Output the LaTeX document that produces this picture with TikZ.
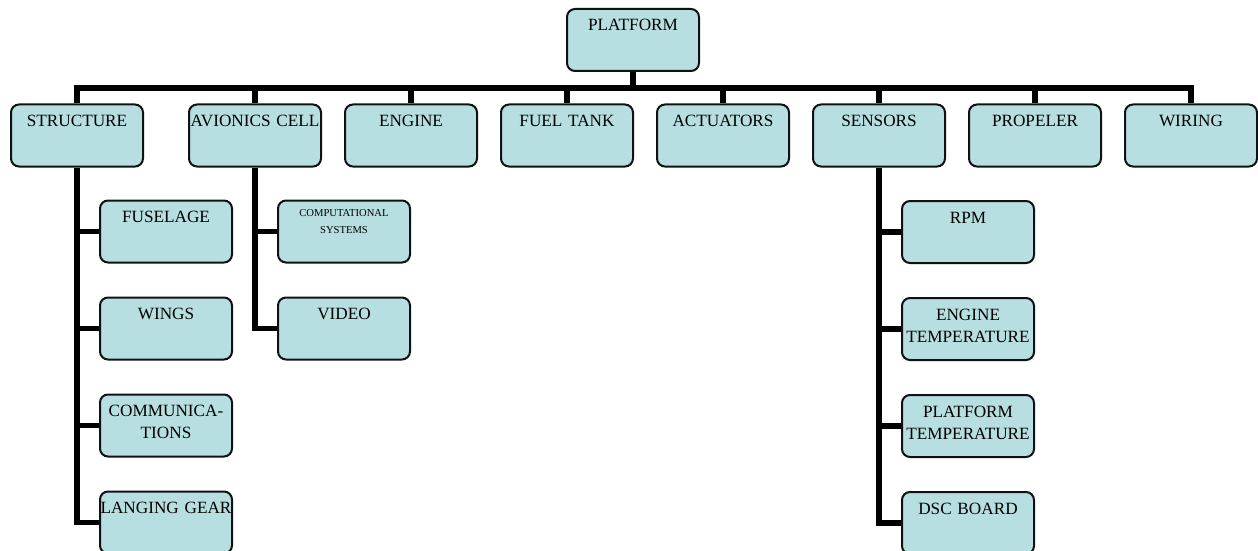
\documentclass[tikz,border=0pt]{standalone}
\usepackage{fontspec}
\setmainfont{Liberation Serif}
\usepackage{tikz}
\usetikzlibrary{positioning}
\definecolor{boxfill}{HTML}{B7DEE0}
\definecolor{boxline}{HTML}{111111}
\tikzset{
  unitbox/.style={draw=boxline, fill=boxfill, rounded corners=4pt, line width=1pt,
    minimum width=66pt, minimum height=31pt, text width=66pt, align=center,
    inner xsep=0pt, inner ysep=4pt, text height=7pt, text depth=16pt,
    font=\fontsize{8.6}{11}\selectfont},
  smallbox/.style={unitbox, text height=4pt, text depth=19pt,
    font=\fontsize{5.3}{8.5}\selectfont},
  link/.style={line width=2.75pt, draw=black}
}
\begin{document}
\begin{tikzpicture}[x=0.5pt, y=-0.5pt]
  \useasboundingbox (0,0) rectangle (1258,551);
  % top level
  \node[unitbox] (platform) at (633,40) {PLATFORM};
  % subsystems
  \node[unitbox] (structure) at (77,135.5) {STRUCTURE};
  \node[unitbox, right=22pt of structure] (avionics) {AVIONICS CELL};
  \node[unitbox, right=11pt of avionics] (engine) {ENGINE};
  \node[unitbox, right=11pt of engine] (fueltank) {FUEL TANK};
  \node[unitbox, right=11pt of fueltank] (actuators) {ACTUATORS};
  \node[unitbox, right=11pt of actuators] (sensors) {SENSORS};
  \node[unitbox, right=11pt of sensors] (propeler) {PROPELER};
  \node[unitbox, right=11pt of propeler] (wiring) {WIRING};
  % structure parts
  \node[unitbox] (fuselage) at (166,231.5) {FUSELAGE};
  \node[unitbox, below=16.5pt of fuselage] (wings) {WINGS};
  \node[unitbox, below=16.5pt of wings] (comms) {COMMUNICA-\\TIONS};
  \node[unitbox, below=16.5pt of comms] (gear) {LANGING GEAR};
  % avionics parts
  \node[smallbox] (compsys) at (344,231.5) {COMPUTATIONAL\\SYSTEMS};
  \node[unitbox, below=16.5pt of compsys] (video) {VIDEO};
  % sensor parts
  \node[unitbox] (rpm) at (968,232) {RPM};
  \node[unitbox, below=16.5pt of rpm] (enginetemp) {ENGINE\\TEMPERATURE};
  \node[unitbox, below=16.5pt of enginetemp] (platformtemp) {PLATFORM\\TEMPERATURE};
  \node[unitbox, below=16.5pt of platformtemp] (dsc) {DSC BOARD};
  % connectors
  \path (platform.south) ++(0,16) coordinate (hub);
  \draw[link] (platform) -- (hub);
  \foreach \unit in {structure,avionics,engine,fueltank,actuators,sensors,propeler,wiring}
    \draw[link] (hub) -| (\unit);
  \draw[link] (structure) |- (gear);
  \foreach \part in {fuselage,wings,comms}
    \draw[link] (structure.south |- \part) -- (\part);
  \draw[link] (avionics) |- (video);
  \draw[link] (avionics.south |- compsys) -- (compsys);
  \draw[link] (sensors) |- (dsc);
  \foreach \part in {rpm,enginetemp,platformtemp}
    \draw[link] (sensors.south |- \part) -- (\part);
\end{tikzpicture}
\end{document}
